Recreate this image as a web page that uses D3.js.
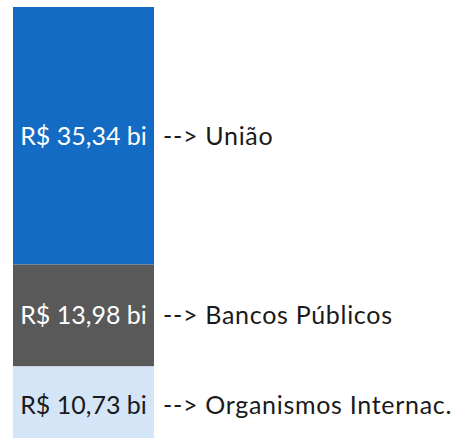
<!DOCTYPE html>
<html>
<head>
<meta charset="utf-8">
<script src="https://cdn.jsdelivr.net/npm/d3@7"></script>
<style>
  body { margin: 0; background: #fff; }
  svg { display: block; }
</style>
</head>
<body>
<svg id="drawing_region"></svg>
<script>
// valores em bilhões de R$
const categories = ["União", "Bancos Públicos", "Organismos Internac."];
const values = [35.34, 13.98, 10.73];
const valueLabels = ["R$ 35,34 bi", "R$ 13,98 bi", "R$ 10,73 bi"];
const colors = ["#146bc3", "#595959", "#d5e5f8"];
const textColors = ["#ffffff", "#ffffff", "#1a1a1a"];

const config = {
    width: 462,
    height: 438,
    barLeft: 13,
    barWidth: 141,
    top: 7
};

// stack the segments top to bottom
let acc = 0;
const data = categories.map((c, i) => {
    const d = { label: c, value: values[i], text: valueLabels[i], y0: acc, y1: acc + values[i], color: colors[i], tcolor: textColors[i] };
    acc += values[i];
    return d;
});

const svg = d3.select('#drawing_region')
    .attr('width', config.width)
    .attr('height', config.height);

// 7.287 px por bilhão
const yscale = d3.scaleLinear()
    .domain([0, acc])
    .range([config.top, config.top + acc * 7.287]);

const seg = svg.selectAll('g.seg')
    .data(data)
    .enter()
    .append('g')
    .attr('class', 'seg');

seg.append('rect')
    .attr('x', config.barLeft)
    .attr('y', d => yscale(d.y0))
    .attr('width', config.barWidth)
    .attr('height', d => yscale(d.y1) - yscale(d.y0))
    .attr('fill', d => d.color);

seg.append('text')
    .attr('x', config.barLeft + config.barWidth / 2)
    .attr('y', d => (yscale(d.y0) + yscale(d.y1)) / 2)
    .attr('dy', '0.35em')
    .attr('text-anchor', 'middle')
    .attr('font-family', 'Lato, sans-serif')
    .attr('font-size', '25px')
    .attr('fill', d => d.tcolor)
    .text(d => d.text);

seg.append('text')
    .attr('x', config.barLeft + config.barWidth + 9)
    .attr('y', d => (yscale(d.y0) + yscale(d.y1)) / 2)
    .attr('dy', '0.35em')
    .attr('font-family', 'Lato, sans-serif')
    .attr('font-size', '25px')
    .attr('letter-spacing', '0.7px')
    .attr('fill', '#1a1a1a')
    .text(d => '--> ' + d.label);
</script>
</body>
</html>
